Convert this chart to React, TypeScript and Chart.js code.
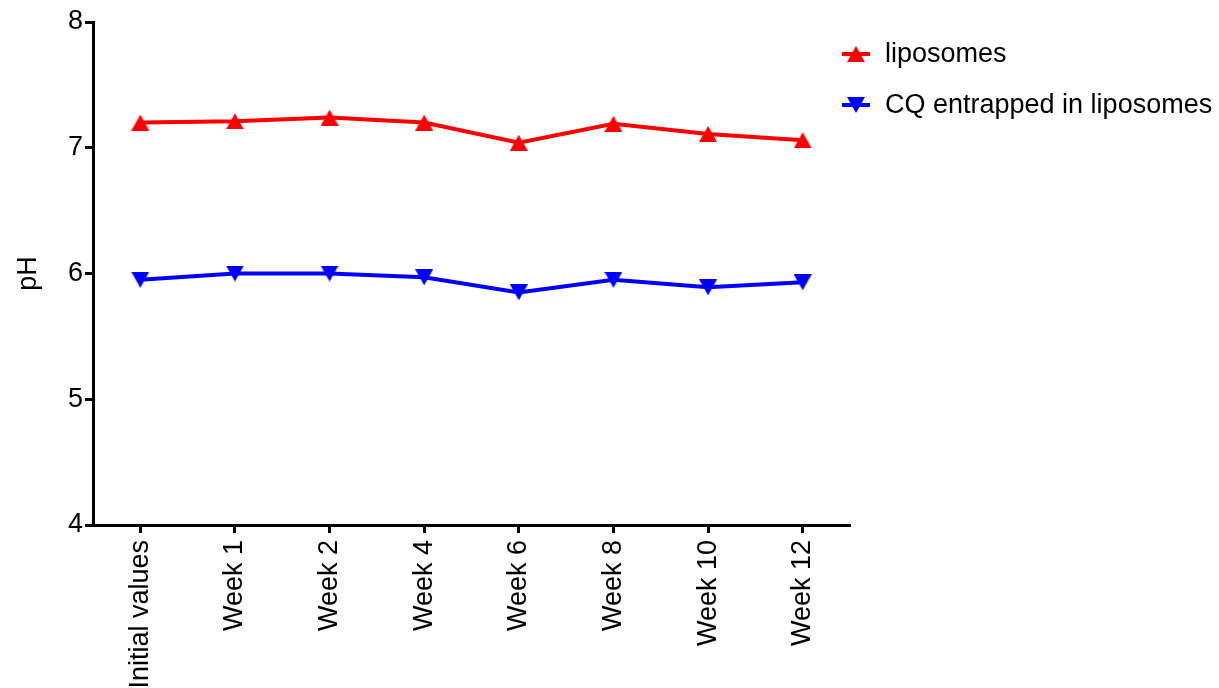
import React, { useEffect, useRef } from "react";
import { Chart, registerables } from "chart.js";

Chart.register(...registerables);

const categories = ["Initial values", "Week 1", "Week 2", "Week 4", "Week 6", "Week 8", "Week 10", "Week 12"];
const liposomes = [7.2, 7.21, 7.24, 7.2, 7.04, 7.19, 7.11, 7.06];
const cqLiposomes = [5.95, 6.0, 6.0, 5.97, 5.85, 5.95, 5.89, 5.93];
const seriesNames = ["liposomes", "CQ entrapped in liposomes"];
const yTicks = [4, 5, 6, 7, 8];

const FONT = "'Liberation Sans', Arial, Helvetica, sans-serif";
const RED = "#FF0000";
const BLUE = "#0000FF";

function makeTriangle(color: string, down: boolean): HTMLCanvasElement {
  const w = 18;
  const h = 16;
  const c = document.createElement("canvas");
  c.width = w;
  c.height = h;
  const ctx = c.getContext("2d")!;
  ctx.fillStyle = color;
  ctx.beginPath();
  if (down) {
    ctx.moveTo(0, 0);
    ctx.lineTo(w, 0);
    ctx.lineTo(w / 2, h);
  } else {
    ctx.moveTo(w / 2, 0);
    ctx.lineTo(w, h);
    ctx.lineTo(0, h);
  }
  ctx.closePath();
  ctx.fill();
  return c;
}

export default function App() {
  const ref = useRef<HTMLCanvasElement | null>(null);

  useEffect(() => {
    if (!ref.current) return;
    const up = makeTriangle(RED, false);
    const down = makeTriangle(BLUE, true);
    const markers = [up, down];
    const colors = [RED, BLUE];

    const legendPlugin = {
      id: "customLegend",
      afterDraw(chart: any) {
        const ctx = chart.ctx;
        const x0 = chart.chartArea.right - 8;
        const ys = [54, 105];
        ctx.save();
        seriesNames.forEach((name, i) => {
          const y = ys[i];
          ctx.strokeStyle = colors[i];
          ctx.lineWidth = 4;
          ctx.beginPath();
          ctx.moveTo(x0, y);
          ctx.lineTo(x0 + 28, y);
          ctx.stroke();
          const m = markers[i];
          ctx.drawImage(m, x0 + 14 - m.width / 2, y - m.height / 2);
          ctx.fillStyle = "#000";
          ctx.font = `27px ${FONT}`;
          ctx.textBaseline = "middle";
          ctx.textAlign = "left";
          ctx.fillText(name, x0 + 43, y + 1);
        });
        ctx.restore();
      },
    };

    const chart = new Chart(ref.current, {
      type: "line",
      data: {
        labels: categories,
        datasets: [
          {
            label: seriesNames[0],
            data: liposomes,
            borderColor: RED,
            backgroundColor: RED,
            borderWidth: 4,
            pointStyle: up,
            pointRadius: 9,
            tension: 0,
          },
          {
            label: seriesNames[1],
            data: cqLiposomes,
            borderColor: BLUE,
            backgroundColor: BLUE,
            borderWidth: 4,
            pointStyle: down,
            pointRadius: 9,
            tension: 0,
          },
        ],
      },
      options: {
        animation: false,
        responsive: true,
        maintainAspectRatio: false,
        layout: { padding: { top: 22, right: 369, bottom: 0, left: 0 } },
        plugins: {
          legend: { display: false },
          tooltip: { enabled: false },
        },
        scales: {
          x: {
            type: "category",
            offset: true,
            grid: {
              display: true,
              drawOnChartArea: false,
              drawTicks: true,
              tickLength: 8,
              tickWidth: 3,
              tickColor: "#000",
              offset: false,
            },
            border: { display: true, color: "#000", width: 3 },
            ticks: {
              color: "#000",
              font: { family: FONT, size: 27 },
              minRotation: 90,
              maxRotation: 90,
              autoSkip: false,
              padding: 7,
            },
            afterFit: (s: any) => {
              s.height = 163;
            },
          },
          y: {
            type: "linear",
            min: 4,
            max: 8,
            afterBuildTicks: (s: any) => {
              s.ticks = yTicks.map((v) => ({ value: v }));
            },
            grid: {
              display: true,
              drawOnChartArea: false,
              drawTicks: true,
              tickLength: 8,
              tickWidth: 3,
              tickColor: "#000",
            },
            border: { display: true, color: "#000", width: 3 },
            ticks: {
              color: "#000",
              font: { family: FONT, size: 27 },
              padding: 2,
            },
            title: {
              display: true,
              text: "pH",
              color: "#000",
              font: { family: FONT, size: 27 },
              padding: { top: 12, bottom: 0 },
            },
            afterFit: (s: any) => {
              s.width = 93;
            },
          },
        },
      },
      plugins: [legendPlugin],
    });
    return () => chart.destroy();
  }, []);

  return (
    <div style={{ position: "absolute", left: 0, top: 0, width: 1219, height: 688 }}>
      <canvas ref={ref} />
    </div>
  );
}
